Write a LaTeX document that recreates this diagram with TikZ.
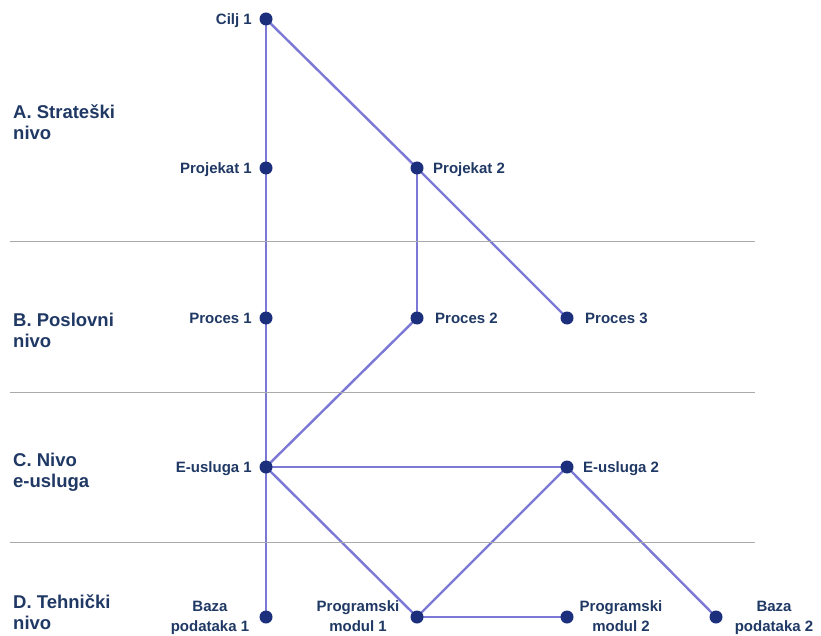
\documentclass[tikz,border=0pt]{standalone}
\usepackage{fontspec}
\setmainfont{Liberation Sans}
\usetikzlibrary{backgrounds}
\definecolor{edgecol}{HTML}{7B78D6}
\definecolor{dotcol}{HTML}{1B2F7C}
\definecolor{txtcol}{HTML}{1F3864}
\definecolor{sepcol}{HTML}{AAAAAA}
\tikzset{
  dot/.style={circle, fill=dotcol, inner sep=0pt, minimum size=13pt},
  conn/.style={draw=edgecol, line width=2.4pt},
  sep/.style={draw=sepcol, line width=1pt},
  lbl/.style={text=txtcol, inner sep=0pt, font=\fontsize{15}{20}\selectfont\bfseries},
  lvl/.style={text=txtcol, inner sep=0pt, align=left, anchor=base west, font=\fontsize{18.5}{21}\selectfont\bfseries},
  lblL/.style={lbl, anchor=base east},
  lblR/.style={lbl, anchor=base west},
  lblB/.style={lbl, align=center, anchor=base}
}
\begin{document}
\begin{tikzpicture}[x=1pt, y=-1pt]
\useasboundingbox (0,0) rectangle (821,636);
% separators
\coordinate (s1a) at (10,242); \coordinate (s1b) at (755,242);
\coordinate (s2a) at (10,392); \coordinate (s2b) at (755,392);
\coordinate (s3a) at (10,542); \coordinate (s3b) at (755,542);
\draw[sep] (s1a) -- (s1b);
\draw[sep] (s2a) -- (s2b);
\draw[sep] (s3a) -- (s3b);
% level labels (base = last line)
\node[lvl] (la) at (13,140) {A. Strateški\\nivo};
\node[lvl] (lb) at (13,347) {B. Poslovni\\nivo};
\node[lvl] (lc) at (13,487) {C. Nivo\\e-usluga};
\node[lvl] (ld) at (13,629) {D. Tehnički\\nivo};
% dots
\node[dot] (c1) at (266,19) {};
\node[dot] (pj1) at (266,168) {};
\node[dot] (pj2) at (417,168) {};
\node[dot] (pr1) at (266,318) {};
\node[dot] (pr2) at (417,318) {};
\node[dot] (pr3) at (567,318) {};
\node[dot] (e1) at (266,467) {};
\node[dot] (e2) at (567,467) {};
\node[dot] (b1) at (266,617) {};
\node[dot] (m1) at (417,617) {};
\node[dot] (m2) at (567,617) {};
\node[dot] (b2) at (716,617) {};
% edges
\begin{scope}[on background layer]
\draw[conn] (c1.center) -- (pj1.center);
\draw[conn] (c1.center) -- (pj2.center);
\draw[conn] (pj2.center) -- (pr3.center);
\draw[conn] (pj2.center) -- (pr2.center);
\draw[conn] (pj1.center) -- (pr1.center);
\draw[conn] (pr1.center) -- (e1.center);
\draw[conn] (pr2.center) -- (e1.center);
\draw[conn] (e1.center) -- (e2.center);
\draw[conn] (e1.center) -- (b1.center);
\draw[conn] (e1.center) -- (m1.center);
\draw[conn] (m1.center) -- (m2.center);
\draw[conn] (m1.center) -- (e2.center);
\draw[conn] (e2.center) -- (b2.center);
\end{scope}
% node labels
\node[lblL] (tc1) at ([xshift=-14pt,yshift=-5.5pt]c1.center) {Cilj 1};
\node[lblL] (tpj1) at ([xshift=-14pt,yshift=-5.5pt]pj1.center) {Projekat 1};
\node[lblR] (tpj2) at ([xshift=16pt,yshift=-5.5pt]pj2.center) {Projekat 2};
\node[lblL] (tpr1) at ([xshift=-14pt,yshift=-5.5pt]pr1.center) {Proces 1};
\node[lblR] (tpr2) at ([xshift=18pt,yshift=-5.5pt]pr2.center) {Proces 2};
\node[lblR] (tpr3) at ([xshift=18pt,yshift=-5.5pt]pr3.center) {Proces 3};
\node[lblL] (te1) at ([xshift=-14pt,yshift=-5.5pt]e1.center) {E-usluga 1};
\node[lblR] (te2) at ([xshift=16pt,yshift=-5.5pt]e2.center) {E-usluga 2};
\node[lblB] (tb1) at (210,631) {Baza\\podataka 1};
\node[lblB] (tm1) at (358,631) {Programski\\modul 1};
\node[lblB] (tm2) at (621,631) {Programski\\modul 2};
\node[lblB] (tb2) at (774,631) {Baza\\podataka 2};
\end{tikzpicture}
\end{document}
